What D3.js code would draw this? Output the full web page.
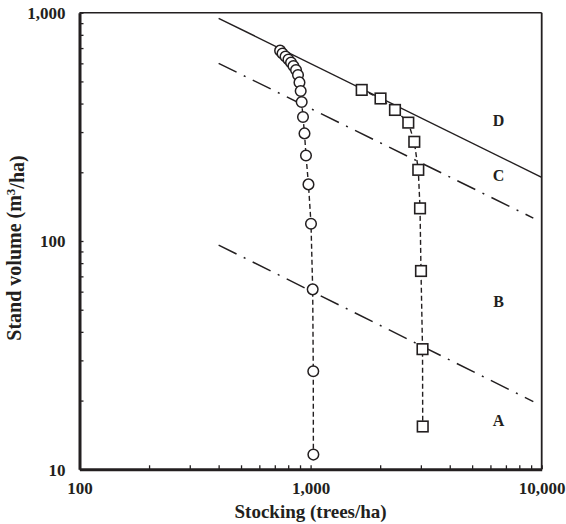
<!DOCTYPE html>
<html>
<head>
<meta charset="utf-8">
<script src="https://cdn.jsdelivr.net/npm/d3@7"></script>
<style>
  body { margin: 0; background: #fff; }
  text { font-family: "Liberation Serif", "Times New Roman", serif; font-weight: bold; fill: #231f20; }
</style>
</head>
<body>
<div id="chart"></div>
<script>
// stand trajectories (stocking trees/ha, volume m3/ha)
var circleN = [738, 756, 779, 802, 823, 843, 865, 882, 895, 906, 915, 927, 941, 955, 979, 1004, 1021, 1027, 1028];
var circleV = [682, 663, 643, 624, 605, 584, 561, 533, 495, 454, 406, 349, 296, 237, 177, 119, 61.4, 26.9, 11.6];
var squareN = [1664, 2007, 2318, 2647, 2810, 2924, 2975, 3004, 3050, 3056];
var squareV = [459, 421, 375, 330, 272, 205, 139, 73.9, 33.6, 15.4];

// zone boundary lines
var lineDN = [400, 10000], lineDV = [945, 190];
var lineCN = [400, 9200],  lineCV = [600, 126];
var lineBN = [400, 9200],  lineBV = [96, 19.8];

var zoneNames = ["A", "B", "C", "D"];
var zoneN = [6500, 6500, 6500, 6500];
var zoneV = [16.4, 54.2, 193, 339];

var xMajor = [100, 1000, 10000];
var yMajor = [10, 100, 1000];

var W = 566, H = 524;
var pLeft = 79.5, pRight = 541.7, pTop = 12.7, pBottom = 469.3;

var svg = d3.select("#chart").append("svg").attr("width", W).attr("height", H);

var x = d3.scaleLog().domain([100, 10000]).range([pLeft, pRight]);
var y = d3.scaleLog().domain([10, 1000]).range([pBottom, pTop]);

function allTicks(lo, hi) {
    var t = [];
    for (var d = lo; d < hi; d *= 10) {
        for (var k = 1; k < 10; k++) t.push(d * k);
    }
    t.push(hi);
    return t;
}
var fmt = d3.format(",");

// frame top/right
svg.append("line").attr("x1", pLeft).attr("x2", pRight).attr("y1", pTop).attr("y2", pTop)
    .attr("stroke", "#231f20").attr("stroke-width", 1.6);
svg.append("line").attr("x1", pRight).attr("x2", pRight).attr("y1", pTop).attr("y2", pBottom)
    .attr("stroke", "#231f20").attr("stroke-width", 1.8);

var xAxis = svg.append("g").attr("transform", "translate(0," + pBottom + ")")
    .call(d3.axisBottom(x).tickValues(allTicks(100, 10000)).tickSizeInner(-4).tickSizeOuter(0).tickPadding(10)
        .tickFormat(function (d) { return xMajor.indexOf(d) >= 0 ? fmt(d) : ""; }));
var yAxis = svg.append("g").attr("transform", "translate(" + pLeft + ",0)")
    .call(d3.axisLeft(y).tickValues(allTicks(10, 1000)).tickSizeInner(-4).tickSizeOuter(0).tickPadding(14)
        .tickFormat(function (d) { return yMajor.indexOf(d) >= 0 ? fmt(d) : ""; }));

[xAxis, yAxis].forEach(function (a) {
    a.select(".domain").attr("stroke", "#231f20").attr("stroke-width", 3);
    a.selectAll(".tick line").attr("stroke", "#231f20").attr("stroke-width", 1.3);
    a.selectAll(".tick text").style("font-family", "Liberation Serif, serif")
        .style("font-weight", "bold").style("font-size", "17px").attr("fill", "#231f20");
});
xAxis.selectAll(".tick text").attr("dy", "0.85em");
yAxis.selectAll(".tick text").attr("dy", "0.35em");

// boundary lines
var line = d3.line().x(function (d) { return x(d[0]); }).y(function (d) { return y(d[1]); });
function pairs(a, b) { return a.map(function (v, i) { return [v, b[i]]; }); }

svg.append("path").datum(pairs(lineDN, lineDV)).attr("d", line)
    .attr("fill", "none").attr("stroke", "#231f20").attr("stroke-width", 1.5);
svg.append("path").datum(pairs(lineCN, lineCV)).attr("d", line)
    .attr("fill", "none").attr("stroke", "#231f20").attr("stroke-width", 1.5)
    .attr("stroke-dasharray", "20,8,2,8");
svg.append("path").datum(pairs(lineBN, lineBV)).attr("d", line)
    .attr("fill", "none").attr("stroke", "#231f20").attr("stroke-width", 1.5)
    .attr("stroke-dasharray", "20,8,2,8");

// trajectories
svg.append("path").datum(pairs(circleN, circleV)).attr("d", line)
    .attr("fill", "none").attr("stroke", "#231f20").attr("stroke-width", 1.4)
    .attr("stroke-dasharray", "5,3");
svg.append("path").datum(pairs(squareN, squareV)).attr("d", line)
    .attr("fill", "none").attr("stroke", "#231f20").attr("stroke-width", 1.4)
    .attr("stroke-dasharray", "5,3");

svg.selectAll("circle.pt").data(pairs(circleN, circleV)).enter().append("circle")
    .attr("class", "pt")
    .attr("cx", function (d) { return x(d[0]); })
    .attr("cy", function (d) { return y(d[1]); })
    .attr("r", 5.3)
    .attr("fill", "#fff").attr("stroke", "#231f20").attr("stroke-width", 1.5);

svg.selectAll("rect.pt").data(pairs(squareN, squareV)).enter().append("rect")
    .attr("class", "pt")
    .attr("x", function (d) { return x(d[0]) - 5.3; })
    .attr("y", function (d) { return y(d[1]) - 5.3; })
    .attr("width", 10.6).attr("height", 10.6)
    .attr("fill", "#fff").attr("stroke", "#231f20").attr("stroke-width", 1.6);

// zone labels
svg.selectAll("text.zone").data(zoneNames).enter().append("text")
    .attr("class", "zone")
    .attr("x", function (d, i) { return x(zoneN[i]); })
    .attr("y", function (d, i) { return y(zoneV[i]); })
    .attr("dy", "0.35em")
    .attr("text-anchor", "middle")
    .style("font-size", "16px")
    .text(function (d) { return d; });

// axis titles
svg.append("text").attr("x", (pLeft + pRight) / 2).attr("y", 518)
    .attr("text-anchor", "middle").style("font-size", "19px")
    .text("Stocking (trees/ha)");

var yt = svg.append("text").attr("transform", "translate(14,248) rotate(-90)")
    .attr("dy", "0.35em").attr("text-anchor", "middle").style("font-size", "20px");
yt.append("tspan").text("Stand volume (m");
yt.append("tspan").attr("dy", "-0.45em").style("font-size", "13px").text("3");
yt.append("tspan").attr("dy", "0.45em").text("/ha)");
</script>
</body>
</html>
